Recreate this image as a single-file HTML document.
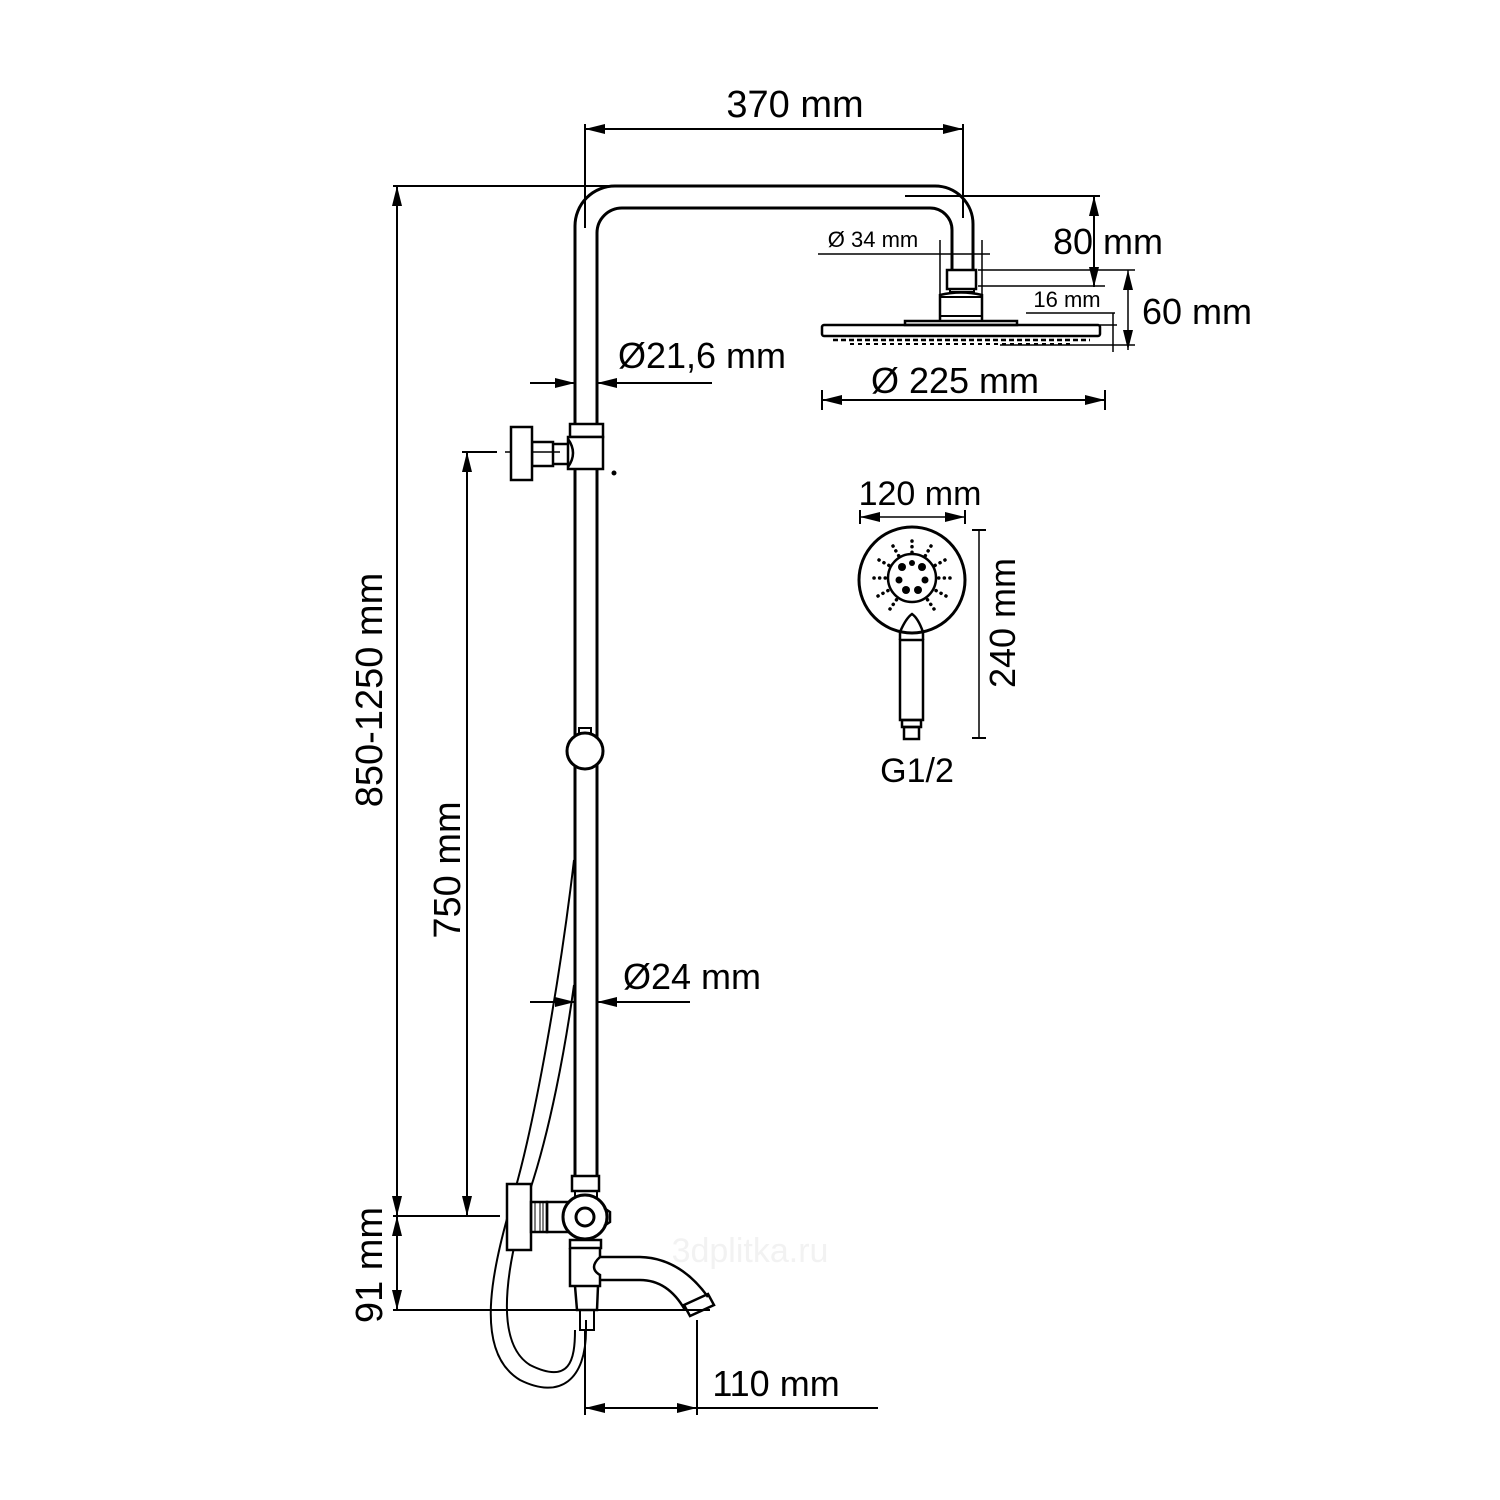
<!DOCTYPE html>
<html><head><meta charset="utf-8"><style>
html,body{margin:0;padding:0;background:#fff}
svg{display:block}
text{font-family:"Liberation Sans",sans-serif;fill:#000}
</style></head><body>
<svg width="1500" height="1500" viewBox="0 0 1500 1500" xmlns="http://www.w3.org/2000/svg">
<defs>
<marker id="a" viewBox="0 0 20 10" refX="20" refY="5" markerWidth="20" markerHeight="10" markerUnits="userSpaceOnUse" orient="auto-start-reverse"><path d="M0,0 L20,5 L0,10 Z" fill="#000"/></marker>
</defs>
<g fill="none" stroke="#000" stroke-width="2">
<line x1="585" y1="129" x2="963" y2="129" marker-start="url(#a)" marker-end="url(#a)"/>
<line x1="585" y1="124" x2="585" y2="228"/>
<line x1="963" y1="124" x2="963" y2="218"/>
<line x1="393" y1="186" x2="620" y2="186"/>
<line x1="397" y1="186" x2="397" y2="1216" marker-start="url(#a)" marker-end="url(#a)"/>
<line x1="397" y1="1216" x2="397" y2="1310" marker-start="url(#a)" marker-end="url(#a)"/>
<line x1="393" y1="1216" x2="500" y2="1216"/>
<line x1="393" y1="1310" x2="710" y2="1310"/>
<line x1="467" y1="452" x2="467" y2="1216" marker-start="url(#a)" marker-end="url(#a)"/>
<line x1="462" y1="452" x2="497" y2="452"/>
<line x1="505" y1="452" x2="560" y2="452" stroke-width="1.5"/>
<path d="M575,1176 L575,226 A40,40 0 0 1 615,186 L935,186 A38,38 0 0 1 973,224 L973,270" stroke-width="3"/>
<path d="M597,1176 L597,233 A25,25 0 0 1 622,208 L930,208 A22,22 0 0 1 952,230 L952,270" stroke-width="3"/>
<line x1="905" y1="196" x2="1100" y2="196"/>
<rect x="947" y="270" width="29" height="19" stroke-width="2.5"/>
<rect x="950" y="289" width="24" height="3"/>
<path d="M940,320 L940,295 Q961,290 982,295 L982,320" stroke-width="2.5"/>
<line x1="940" y1="297" x2="982" y2="297"/>
<line x1="940" y1="316" x2="982" y2="316"/>
<rect x="905" y="321" width="112" height="4" stroke-width="2.5"/>
<rect x="822" y="325" width="278" height="11" rx="2" stroke-width="2.5"/>
<path d="M833,340 L1090,340" stroke-dasharray="5,3" stroke-width="2.5"/>
<path d="M850,344 L1070,344" stroke-dasharray="4,4" stroke-width="2"/>
<line x1="818" y1="254" x2="990" y2="254" stroke-width="1.5"/>
<line x1="940" y1="240" x2="940" y2="320" stroke-width="1.5"/>
<line x1="982" y1="240" x2="982" y2="320" stroke-width="1.5"/>
<line x1="1094" y1="196" x2="1094" y2="287" marker-start="url(#a)" marker-end="url(#a)"/>
<line x1="978" y1="270" x2="1135" y2="270" stroke-width="1.5"/>
<line x1="978" y1="286" x2="1105" y2="286" stroke-width="1.5"/>
<line x1="1128" y1="270" x2="1128" y2="350" marker-start="url(#a)" marker-end="url(#a)" stroke-width="1.5"/>
<line x1="1026" y1="313" x2="1115" y2="313" stroke-width="1.5"/>
<line x1="1113" y1="313" x2="1113" y2="352" stroke-width="1.5"/>
<line x1="1100" y1="325" x2="1117" y2="325" stroke-width="1.5"/>
<line x1="1000" y1="345" x2="1135" y2="345" stroke-width="1.5"/>
<line x1="822" y1="400" x2="1105" y2="400" marker-start="url(#a)" marker-end="url(#a)"/>
<line x1="822" y1="390" x2="822" y2="410"/>
<line x1="1105" y1="390" x2="1105" y2="410"/>
<line x1="530" y1="383" x2="575" y2="383" marker-end="url(#a)"/>
<line x1="712" y1="383" x2="597" y2="383" marker-end="url(#a)"/>
<line x1="530" y1="1002" x2="575" y2="1002" marker-end="url(#a)"/>
<line x1="690" y1="1002" x2="597" y2="1002" marker-end="url(#a)"/>
<rect x="570" y="424" width="33" height="13" stroke-width="2.5" fill="#fff"/>
<rect x="568" y="437" width="35" height="32" stroke-width="2.5" fill="#fff"/>
<path d="M568,439 Q578,453 568,467" stroke-width="2.5"/>
<rect x="532" y="442" width="21" height="24" stroke-width="2.5"/>
<path d="M553,444 L567,444 M553,464 L567,464" stroke-width="2.5"/>
<rect x="511" y="427" width="21" height="53" stroke-width="2.5" fill="#fff"/>
<circle cx="614" cy="473" r="1.5" fill="#000"/>
<circle cx="585" cy="751" r="18" stroke-width="3" fill="#fff"/>
<rect x="579" y="728" width="12" height="5" stroke-width="2"/>
<path d="M574,860 C560,980 535,1120 515,1190 C495,1260 470,1350 520,1380 C560,1400 586,1380 586,1330 L586,1320"/>
<path d="M574,985 C565,1050 550,1130 530,1190 C510,1250 490,1340 530,1365 C570,1385 575,1360 575,1330"/>
<rect x="572" y="1176" width="27" height="15" stroke-width="2.5" fill="#fff"/>
<rect x="575" y="1191" width="22" height="8" stroke-width="2"/>
<rect x="507" y="1184" width="24" height="66" stroke-width="2.5" fill="#fff"/>
<rect x="531" y="1202" width="16" height="30" stroke-width="2.5"/>
<path d="M535,1202 L535,1232 M540,1202 L540,1232 M543,1202 L543,1232" stroke-width="1"/>
<rect x="547" y="1202" width="22" height="30" stroke-width="2.5"/>
<circle cx="585" cy="1217" r="22" stroke-width="3" fill="#fff"/>
<circle cx="585" cy="1217" r="9" stroke-width="3"/>
<path d="M604,1208 L610,1212 L610,1222 L604,1226" stroke-width="2.5"/>
<rect x="570" y="1240" width="31" height="8" stroke-width="2.5"/>
<path d="M570,1248 L570,1286 L600,1286 L600,1275 Q588,1268 600,1257 L600,1248" stroke-width="2.5"/>
<path d="M600,1257 L640,1257 Q680,1258 708,1297 M600,1280 L640,1280 Q668,1280 685,1310" stroke-width="2.5"/>
<path d="M684,1305 L708,1294 L714,1305 L690,1316 Z" stroke-width="2.5"/>
<path d="M575,1286 L577,1310 L597,1310 L598,1286" stroke-width="2.5"/>
<rect x="580" y="1310" width="14" height="20" stroke-width="2"/>
<line x1="585" y1="1330" x2="585" y2="1415"/>
<line x1="697" y1="1320" x2="697" y2="1415"/>
<line x1="585" y1="1408" x2="697" y2="1408" marker-start="url(#a)" marker-end="url(#a)"/>
<line x1="697" y1="1408" x2="878" y2="1408"/>
<circle cx="912" cy="580" r="53" stroke-width="3" fill="#fff"/>
<circle cx="912" cy="578" r="24" stroke-width="2.5"/>
<path d="M900,640 L900,632 Q906,618 912,614 Q918,618 923,632 L923,640" stroke-width="2.5"/>
<rect x="900" y="640" width="23" height="80" stroke-width="2.5" fill="#fff"/>
<rect x="902" y="720" width="19" height="7" stroke-width="2.5"/>
<rect x="904" y="727" width="15" height="12" stroke-width="2.5"/>
<line x1="860" y1="517" x2="965" y2="517" marker-start="url(#a)" marker-end="url(#a)" stroke-width="1.5"/>
<line x1="860" y1="510" x2="860" y2="524"/>
<line x1="965" y1="510" x2="965" y2="524"/>
<line x1="979" y1="530" x2="979" y2="738" stroke-width="1.5"/>
<line x1="972" y1="530" x2="986" y2="530"/>
<line x1="972" y1="738" x2="986" y2="738"/>
<!-- radial dot rows -->
<g stroke-width="3.5" stroke-linecap="round" stroke-dasharray="0.1,5.5">
<line x1="912" y1="541" x2="912" y2="555"/>
<line x1="893" y1="546" x2="900" y2="558"/>
<line x1="931" y1="546" x2="924" y2="558"/>
<line x1="879" y1="560" x2="890" y2="566"/>
<line x1="945" y1="560" x2="934" y2="566"/>
<line x1="874" y1="578" x2="887" y2="578"/>
<line x1="950" y1="578" x2="937" y2="578"/>
<line x1="878" y1="596" x2="889" y2="590"/>
<line x1="946" y1="596" x2="935" y2="590"/>
<line x1="890" y1="609" x2="897" y2="599"/>
<line x1="934" y1="609" x2="927" y2="599"/>
</g>
</g>
<g fill="#000">
<circle cx="902" cy="567" r="4"/><circle cx="922" cy="567" r="4"/>
<circle cx="899" cy="580" r="3.5"/><circle cx="925" cy="580" r="3.5"/>
<circle cx="906" cy="590" r="4"/><circle cx="918" cy="590" r="4"/>
<circle cx="912" cy="563" r="3"/>
</g>
<g font-size="38">
<text x="795" y="117" text-anchor="middle">370 mm</text>
<text x="1108" y="254" text-anchor="middle" font-size="36">80 mm</text>
<text x="1197" y="324" text-anchor="middle" font-size="36">60 mm</text>
<text x="955" y="393" text-anchor="middle" font-size="36">Ø 225 mm</text>
<text x="702" y="368" text-anchor="middle" font-size="36">Ø21,6 mm</text>
<text x="692" y="989" text-anchor="middle" font-size="36">Ø24 mm</text>
<text x="776" y="1396" text-anchor="middle" font-size="36">110 mm</text>
<text x="920" y="505" text-anchor="middle" font-size="34">120 mm</text>
<text x="917" y="782" text-anchor="middle" font-size="34">G1/2</text>
<text x="873" y="247" text-anchor="middle" font-size="22">Ø 34 mm</text>
<text x="1067" y="307" text-anchor="middle" font-size="22">16 mm</text>
<text transform="translate(382,690) rotate(-90)" text-anchor="middle" font-size="38">850-1250 mm</text>
<text transform="translate(382,1265) rotate(-90)" text-anchor="middle" font-size="38">91 mm</text>
<text transform="translate(460,870) rotate(-90)" text-anchor="middle" font-size="38">750 mm</text>
<text transform="translate(1015,623) rotate(-90)" text-anchor="middle" font-size="36">240 mm</text>
<text x="750" y="1262" text-anchor="middle" font-size="34" style="fill:#f2f2f2">3dplitka.ru</text>
</g>
</svg>
</body></html>
